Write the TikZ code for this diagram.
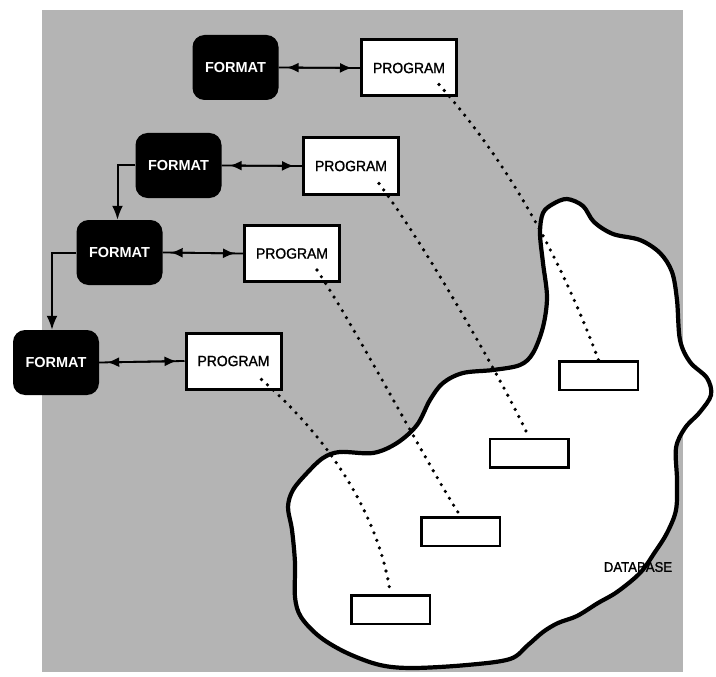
\documentclass[tikz,border=0pt]{standalone}
\usepackage{fontspec}
\setmainfont{Liberation Sans}
\newfontfamily\medsans[FakeBold=1.2,FakeStretch=0.94]{Liberation Sans}
\usetikzlibrary{arrows.meta}
\definecolor{halftone}{RGB}{180,180,180}
\begin{document}
\begin{tikzpicture}[x=1pt,y=-1pt,
  fmt/.style={fill=black, rounded corners=12pt, minimum width=86pt, minimum height=65pt,
    text=white, font=\bfseries\fontsize{14.5}{16}\selectfont, inner sep=0pt},
  prog/.style={draw=black, line width=3pt, fill=white, minimum width=95pt, minimum height=56pt,
    font=\medsans\fontsize{14.8}{16}\selectfont, inner sep=0pt},
  rec/.style={draw=black, line width=2.5pt, fill=white, minimum width=78.5pt, minimum height=28.5pt, inner sep=0pt},
  link/.style={line width=1.8pt},
  biarrow/.style={line width=1.8pt, shorten <=8pt, shorten >=8pt,
    {Latex[length=12pt,width=10pt]}-{Latex[length=12pt,width=10pt]}},
  elbow/.style={line width=2pt, -{Latex[length=14pt,width=11pt]}},
  dots/.style={line width=3.6pt, line cap=round, dash pattern=on 0pt off 8pt},
  blob/.style={draw=black, line width=4.2pt, fill=white}]
\useasboundingbox (0,0) rectangle (716,677);
% background
\fill[halftone] (42,10) rectangle (683,672);
% database outline
\draw[blob] plot[smooth cycle, tension=0.55] coordinates {
  (567,199) (583,206) (594,222) (613,234) (640,240) (660,253) (672,272) (677,300)
  (680,340) (690,362) (707,378) (711,395) (700,412) (685,428) (676,448) (677,480)
  (676,510) (667,533) (655,552) (640,573) (617,592) (598,603) (577,616) (558,623)
  (543,632) (528,645) (510,659) (467,665) (413,668) (380,665) (347,653) (320,637)
  (301,617) (295,597) (295,563) (292,530) (288,507) (293,490) (307,473) (323,458)
  (340,452) (373,453) (397,443) (417,425) (430,400) (443,383) (463,373) (493,370)
  (520,365) (533,353) (543,327) (547,297) (543,263) (540,233) (543,213) (553,204)};
% database records
\node[rec] (d1) at (598.5,375.5) {};
\node[rec] (d2) at (529,453) {};
\node[rec] (d3) at (460.5,531.5) {};
\node[rec] (d4) at (390.5,609.5) {};
% programs
\node[prog] (p1) at (409,68) {PROGRAM};
\node[prog] (p2) at (351,166) {PROGRAM};
\node[prog] (p3) at (292,253.5) {PROGRAM};
\node[prog] (p4) at (233.5,361) {PROGRAM};
% formats
\node[fmt] (f1) at (235.5,67.5) {FORMAT};
\node[fmt] (f2) at (178.5,165.5) {FORMAT};
\node[fmt] (f3) at (119.5,252.5) {FORMAT};
\node[fmt] (f4) at (56,362.5) {FORMAT};
% dotted links program -> database
\coordinate (s1) at ([shift={(-19,-13)}]p1.south east);
\coordinate (s2) at ([shift={(-21,-12)}]p2.south east);
\coordinate (s3) at ([shift={(-24,-13)}]p3.south east);
\coordinate (s4) at ([shift={(-21,-11)}]p4.south east);
\draw[dots] (s1) .. controls (515,170) and (565,270) .. (d1.north);
\draw[dots] (s2) .. controls (425,245) and (505,385) .. (d2.north);
\draw[dots] (s3) .. controls (360,335) and (430,470) .. (d3.north);
\draw[dots] (s4) .. controls (325,435) and (378,510) .. (d4.north);
% format <-> program
\foreach \i in {1,2,3,4}{
  \draw[link] (f\i.east) -- (p\i.west);
  \draw[biarrow] (f\i.east) -- (p\i.west);
}
% format chain
\draw[elbow] (f2.west) -| ([xshift=-2pt]f3.north);
\draw[elbow] (f3.west) -| ([xshift=-4pt]f4.north);
% label
\node[font=\medsans\fontsize{14}{15}\selectfont] (db) at (638,567) {DATABASE};
\end{tikzpicture}
\end{document}
